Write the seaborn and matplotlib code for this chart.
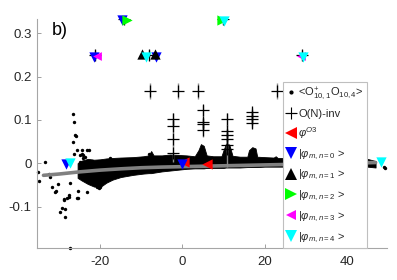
import matplotlib
matplotlib.use('Agg')
import matplotlib.pyplot as plt
from matplotlib.lines import Line2D
import seaborn as sns

band_x = [-25.5, -24.5, -23.0, -21.5, -20.0, -18.5, -17.0, -15.0, -12.0, -9.5,
          -8.2, -7.6, -7.0, -5.0, -3.0, -1.0, 1.0, 3.0, 3.9, 4.5,
          5.2, 5.9, 7.5, 9.5, 10.0, 10.6, 11.4, 12.2, 14.0, 15.8,
          16.2, 17.0, 17.8, 18.2, 20.0, 22.2, 22.7, 23.2, 26.0, 30.0,
          35.0, 40.0, 45.0, 47.0]
band_hi = [0.0, 0.006, 0.01, 0.008, 0.009, 0.011, 0.012, 0.013, 0.014, 0.016,
           0.018, 0.028, 0.018, 0.018, 0.02, 0.019, 0.018, 0.016, 0.030, 0.044,
           0.040, 0.018, 0.016, 0.016, 0.030, 0.045, 0.043, 0.017, 0.015, 0.015,
           0.030, 0.037, 0.034, 0.015, 0.014, 0.013, 0.016, 0.012, 0.012, 0.012,
           0.012, 0.012, 0.010, 0.005]
band_lo = [-0.034, -0.040, -0.048, -0.054, -0.055, -0.045, -0.038, -0.032, -0.027, -0.024,
           -0.023, -0.023, -0.022, -0.019, -0.017, -0.015, -0.013, -0.012, -0.012, -0.012,
           -0.012, -0.011, -0.011, -0.011, -0.011, -0.010, -0.010, -0.010, -0.010, -0.009,
           -0.009, -0.009, -0.009, -0.009, -0.008, -0.008, -0.008, -0.008, -0.008, -0.008,
           -0.008, -0.008, -0.008, -0.010]

# scattered points of the same correlator
dots_x = [-26.7, -26.4, -26.2, -25.9, -26.5, -22.8, -24.5, -24.1, -33.4, -35.0,
          -32.2, -32.4, -31.8, -31.0, -30.7, -30.2, -28.9, -28.1, -29.9, -29.3,
          -28.5, -28.5, -27.7, -27.6, -25.7, -25.3, -27.3, -27.3, -24.9, -24.5,
          -24.1, -23.7, -24.1, -24.9, -22.4, -22.0, -20.4, -20.0, -18.0, -17.6,
          -15.1, -8.2, -25.7, -24.5, -23.1, -26.3, -24.9, -23.3, -25.5, -20.8,
          -28.9, 49.0, 49.4, -35.1]
dots_y = [0.114, 0.094, 0.066, 0.063, 0.049, 0.030, 0.022, 0.018, 0.002, -0.041,
          -0.031, -0.025, -0.056, -0.067, -0.065, -0.047, -0.083, -0.081, -0.112, -0.104,
          -0.106, -0.125, -0.077, -0.074, -0.081, -0.064, -0.045, -0.196, 0.003, -0.005,
          0.011, 0.014, -0.016, -0.028, -0.005, 0.005, -0.058, -0.056, 0.003, 0.011,
          0.007, 0.022, 0.031, 0.030, 0.030, 0.022, 0.018, -0.066, -0.081, -0.054,
          -0.085, -0.008, -0.012, -0.021]

# O(N)-inv: grey curve + points with error bars
line_x = [-33.8, -30, -25, -20, -15, -10, -5, 0, 5, 10, 15, 20, 25, 30, 35, 40, 45, 47]
line_y = [-0.028, -0.025, -0.020, -0.016, -0.013, -0.0105, -0.009, -0.008, -0.007,
          -0.006, -0.005, -0.004, -0.003, -0.002, -0.001, 0.0, 0.001, 0.0015]
on_x = [-21.2, -14.2, -8.2, -8.0, -1.1, 3.8, 9.9, 23.0, 29.2,
        -2.4, -2.4, -2.4, -2.4, 5.0, 5.0, 5.0, 5.0,
        10.9, 10.9, 10.9, 10.9, 10.9, 10.9, 17.0, 17.0, 17.0, 17.0]
on_y = [0.250, 0.333, 0.250, 0.166, 0.166, 0.166, 0.333, 0.166, 0.250,
        0.101, 0.085, 0.055, 0.023, 0.122, 0.094, 0.090, 0.076,
        0.101, 0.074, 0.064, 0.055, 0.041, 0.032, 0.117, 0.108, 0.101, 0.092]
on_err = [0.012, 0.012, 0.012, 0.018, 0.018, 0.018, 0.012, 0.018, 0.012,
          0.015, 0.015, 0.015, 0.02, 0.012, 0.012, 0.012, 0.015,
          0.015, 0.015, 0.015, 0.015, 0.015, 0.04, 0.01, 0.01, 0.01, 0.01]

# states
o3_x, o3_y = [0.5, 6.0], [0.002, -0.003]
n0_x, n0_y = [-28.3, -21.5, -14.7, -6.4, 0.0], [-0.001, 0.246, 0.330, 0.246, -0.002]
n1_x, n1_y = [-9.8, -6.6], [0.252, 0.252]
n2_x, n2_y = [-13.5, 9.6], [0.331, 0.331]
n3_x, n3_y = [-20.7, 28.8], [0.248, 0.248]
n4_x, n4_y = [-27.3, -8.8, 10.2, 29.4, 48.2], [0.0, 0.245, 0.329, 0.246, 0.002]

xticks = [-20, 0, 20, 40]
yticks = [-0.1, 0, 0.1, 0.2, 0.3]
ytick_labels = ['-0.1', '0', '0.1', '0.2', '0.3']
xtick_labels = ['-20', '0', '20', '40']

sns.set_style('ticks')
plt.rcParams['font.family'] = ['Liberation Sans', 'DejaVu Sans']
plt.rcParams['mathtext.fontset'] = 'custom'
plt.rcParams['mathtext.rm'] = 'Liberation Sans'
plt.rcParams['mathtext.it'] = 'Liberation Sans:italic'
plt.rcParams['mathtext.bf'] = 'Liberation Sans:bold'

fig = plt.figure(figsize=(3.97, 2.80), dpi=100)
ax = fig.add_axes([0.094, 0.1154, 0.880, 0.8156])

ax.fill_between(band_x, band_lo, band_hi, color='k', lw=0.6, zorder=2)
sns.scatterplot(x=dots_x, y=dots_y, color='k', s=6, linewidth=0, ax=ax,
                clip_on=False, zorder=2)
sns.lineplot(x=line_x, y=line_y, color='0.5', lw=2.6, ax=ax, zorder=3)
ax.errorbar(on_x, on_y, yerr=on_err, fmt='none', ecolor='0.55', elinewidth=1.0,
            capsize=0, zorder=3)
ax.plot(on_x, on_y, ls='none', marker='+', color='k', ms=8.5, mew=0.9, zorder=4)

states = [
    (o3_x, o3_y, '<', '#ff0000', 55),
    (n0_x, n0_y, 'v', '#0000ff', 55),
    (n1_x, n1_y, '^', 'k', 55),
    (n2_x, n2_y, '>', '#00ff00', 55),
    (n3_x, n3_y, '<', '#ff00ff', 40),
    (n4_x, n4_y, 'v', '#00ffff', 55),
]
for xs, ys, mk, col, sz in states:
    sns.scatterplot(x=xs, y=ys, marker=mk, color=col, s=sz, linewidth=0,
                    ax=ax, clip_on=False, zorder=5)

ax.set_xlim(-35.3, 49.7)
ax.set_ylim(-0.195, 0.332)
ax.set_xticks(xticks)
ax.set_xticklabels(xtick_labels)
ax.set_yticks(yticks)
ax.set_yticklabels(ytick_labels)
ax.tick_params(direction='in', length=3, width=0.7, color='#a0a0a0',
               labelsize=9.5, labelcolor='#262626', pad=4)
ax.tick_params(axis='x', pad=6)
sns.despine(ax=ax)
for s in ['left', 'bottom']:
    ax.spines[s].set_color('#a6a6a6')
    ax.spines[s].set_linewidth(0.8)

ax.text(0.042, 0.953, 'b)', transform=ax.transAxes, fontsize=13,
        ha='left', va='center', color='k')

handles = [
    Line2D([], [], ls='none', marker='.', color='k', ms=4),
    Line2D([], [], ls='-', lw=0.8, marker='+', color='k', ms=9, mew=0.8),
    Line2D([], [], ls='none', marker='<', color='#ff0000', ms=8, mew=0),
    Line2D([], [], ls='none', marker='v', color='#0000ff', ms=8, mew=0),
    Line2D([], [], ls='none', marker='^', color='k', ms=8, mew=0),
    Line2D([], [], ls='none', marker='>', color='#00ff00', ms=8, mew=0),
    Line2D([], [], ls='none', marker='<', color='#ff00ff', ms=6.5, mew=0),
    Line2D([], [], ls='none', marker='v', color='#00ffff', ms=8, mew=0),
]
labels = [
    r'<O$^{+}_{10,1}$O$_{10,4}$>',
    'O(N)-inv',
    r'$\varphi^{O3}$',
    r'|$\varphi_{m,n=0}$ >',
    r'|$\varphi_{m,n=1}$ >',
    r'|$\varphi_{m,n=2}$ >',
    r'|$\varphi_{m,n=3}$ >',
    r'|$\varphi_{m,n=4}$ >',
]
leg = ax.legend(handles, labels, loc='upper left', bbox_to_anchor=(0.702, 0.7255),
                borderaxespad=0, fontsize=8, handlelength=0.9, handletextpad=0.2,
                borderpad=0.3, labelspacing=0.58, frameon=True, fancybox=False,
                framealpha=1, edgecolor='#bfbfbf')
leg.get_frame().set_linewidth(0.8)
leg.set_zorder(10)

fig.savefig('out.png', dpi=100)
